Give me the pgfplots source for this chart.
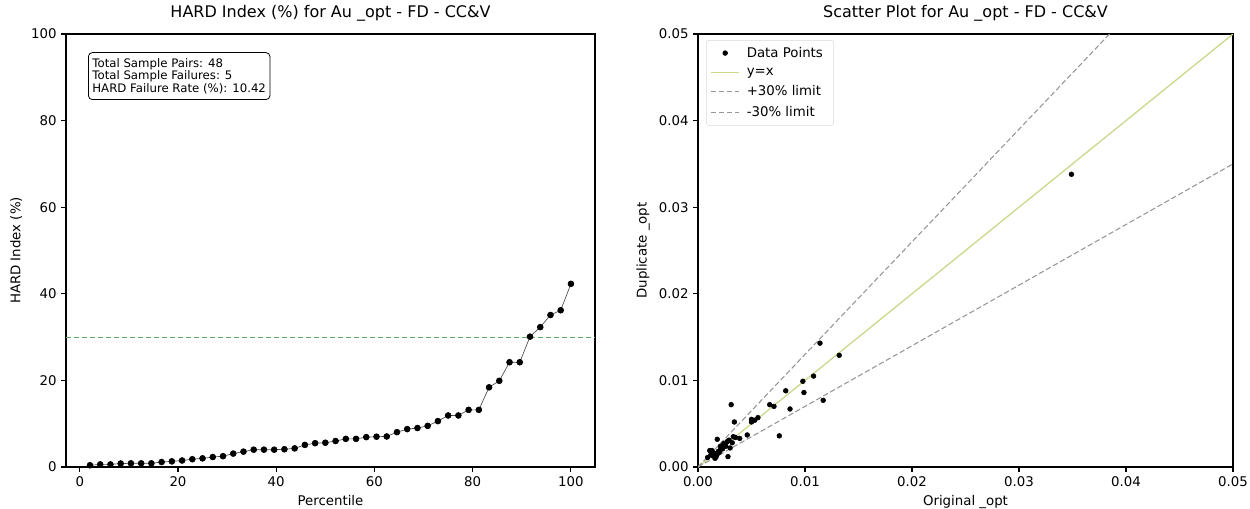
\documentclass[border=0pt]{standalone}
\usepackage{pgfplots}
\pgfplotsset{compat=1.18}
\usepackage{fontspec}
\setmainfont{DejaVu Sans}
\definecolor{yxline}{RGB}{200,218,140}
\definecolor{limgray}{RGB}{150,150,150}
\definecolor{thrgreen}{RGB}{95,170,95}
\begin{document}
\begin{tikzpicture}
\path[use as bounding box] (-49.5pt,-30.75pt) rectangle (888pt,350.25pt);
\pgfplotsset{
  every axis/.append style={
    scale only axis,
    font=\fontsize{10}{12}\selectfont,
    tick label style={font=\fontsize{10}{12}\selectfont},
    /pgf/number format/assume math mode=true,
    tick align=outside,
    major tick length=3.5pt,
    tick pos=left,
    axis line style={line width=0.8pt},
    every tick/.style={black, line width=0.8pt},
    title style={font=\fontsize{12}{14}\selectfont, yshift=0pt},
  }
}
% ---------------- Left: HARD index ----------------
\begin{axis}[
  at={(0pt,0pt)}, anchor=south west,
  width=396.75pt, height=324.75pt,
  xmin=-2.8, xmax=104.9, ymin=0, ymax=100,
  xtick={0,20,40,60,80,100}, ytick={0,20,40,60,80,100},
  xlabel={Percentile}, ylabel={HARD Index (\%)},
  title={HARD Index (\%) for Au \_opt - FD - CC\&V},
  clip=false,
]
\addplot[black!70, line width=0.5pt, mark=*, mark size=2.2pt, mark options={fill=black, draw=black}] coordinates {
(2.083,0.4)(4.167,0.6)(6.250,0.6)(8.333,0.8)(10.417,0.85)(12.500,0.85)
(14.583,0.85)(16.667,1.15)(18.750,1.3)(20.833,1.5)(22.917,1.8)(25.000,2.0)
(27.083,2.3)(29.167,2.5)(31.250,3.1)(33.333,3.55)(35.417,4.0)(37.500,4.0)
(39.583,4.0)(41.667,4.1)(43.750,4.3)(45.833,5.1)(47.917,5.5)(50.000,5.6)
(52.083,6.0)(54.167,6.5)(56.250,6.5)(58.333,6.9)(60.417,7.0)(62.500,7.05)
(64.583,8.05)(66.667,8.75)(68.750,9.0)(70.833,9.5)(72.917,10.6)(75.000,11.9)
(77.083,11.9)(79.167,13.2)(81.250,13.2)(83.333,18.4)(85.417,19.9)(87.500,24.2)
(89.583,24.2)(91.667,30.1)(93.750,32.3)(95.833,35.1)(97.917,36.2)(100.000,42.3)
};
\addplot[thrgreen, dash pattern=on 4pt off 2pt, line width=0.75pt, forget plot] coordinates {(-2.8,30)(104.9,30)};
\node[draw=black, rounded corners=3pt, line width=0.6pt, anchor=north west, align=left,
      font=\fontsize{8.8}{9.2}\selectfont, inner xsep=3pt, inner ysep=4.5pt, fill=white]
  at (rel axis cs:0.0416,0.958) {Total Sample Pairs: 48\\Total Sample Failures: 5\\HARD Failure Rate (\%): 10.42};
\end{axis}
% ---------------- Right: scatter ----------------
\begin{axis}[
  at={(474pt,0pt)}, anchor=south west,
  width=401.25pt, height=324.75pt,
  xmin=0, xmax=0.05, ymin=0, ymax=0.05,
  xtick={0,0.01,0.02,0.03,0.04,0.05}, ytick={0,0.01,0.02,0.03,0.04,0.05},
  xticklabels={0.00,0.01,0.02,0.03,0.04,0.05},
  yticklabels={0.00,0.01,0.02,0.03,0.04,0.05},
  scaled ticks=false,
  xlabel={Original \_opt}, ylabel={Duplicate \_opt},
  title={Scatter Plot for Au \_opt - FD - CC\&V},
  legend style={font=\fontsize{10}{12}\selectfont, draw=black!15, rounded corners=2pt,
    at={(rel axis cs:0.015,0.986)}, anchor=north west, inner sep=3pt,
    row sep=2.5pt, nodes={inner xsep=5pt}},
  legend cell align=left,
  legend image code/.code={\draw[mark repeat=2,mark phase=2] plot coordinates {(0cm,0cm)(0.375cm,0cm)(0.75cm,0cm)};},
]
\addplot[only marks, mark=*, mark size=1.8pt, mark options={fill=black, draw=black}] coordinates {
(0.0349,0.0338)(0.0132,0.0129)(0.0114,0.0143)(0.0108,0.0105)(0.0098,0.0099)
(0.0099,0.0086)(0.0082,0.0088)(0.0117,0.0077)(0.0086,0.0067)(0.0067,0.0072)
(0.0071,0.0070)(0.0031,0.0072)(0.0076,0.0036)(0.0050,0.0055)(0.0053,0.0054)
(0.0056,0.0057)(0.0050,0.0052)(0.0034,0.0052)(0.0046,0.0037)(0.0039,0.0033)
(0.0035,0.0034)(0.0032,0.0028)(0.0018,0.0032)(0.0027,0.0029)(0.0028,0.0030)
(0.0030,0.0022)(0.0028,0.0012)(0.0025,0.0025)(0.0013,0.0019)(0.0011,0.0019)
(0.0015,0.0016)(0.0021,0.0020)(0.0017,0.0012)(0.0016,0.0010)(0.0022,0.0023)
(0.0019,0.0018)(0.0024,0.0027)(0.0014,0.0013)(0.0020,0.0017)(0.0026,0.0024)
(0.0012,0.0014)(0.0023,0.0021)(0.0018,0.0015)(0.0029,0.0031)(0.0015,0.0013)
(0.0021,0.0024)(0.0033,0.0035)(0.0009,0.0011)
};
\addlegendentry{Data Points}
\addplot[yxline, line width=1pt] coordinates {(0,0)(0.05,0.05)};
\addlegendentry{y=x}
\addplot[limgray, dash pattern=on 4pt off 2pt, line width=0.8pt] coordinates {(0,0)(0.0384615,0.05)};
\addlegendentry{+30\% limit}
\addplot[limgray, dash pattern=on 4pt off 2pt, line width=0.8pt] coordinates {(0,0)(0.05,0.035)};
\addlegendentry{-30\% limit}
\end{axis}
\end{tikzpicture}
\end{document}
